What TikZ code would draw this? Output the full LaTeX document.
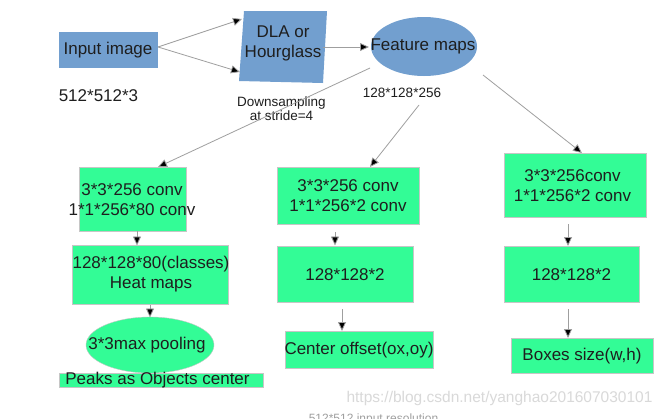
\documentclass[tikz,border=0pt]{standalone}
\usepackage{fontspec}
\setmainfont{Liberation Sans}
\usetikzlibrary{arrows.meta,shapes.geometric}
\definecolor{boxblue}{RGB}{114,159,207}
\definecolor{boxgreen}{RGB}{51,252,150}
\definecolor{txtc}{RGB}{30,30,30}
\begin{document}
\begin{tikzpicture}[x=1pt,y=-1pt,
  big/.style={font=\fontsize{17}{20}\selectfont, text=txtc, align=center, inner sep=0pt},
  small/.style={font=\fontsize{13.5}{14}\selectfont, text=txtc, align=center, inner sep=0pt},
  bbox/.style={fill=boxblue, draw=none, inner sep=0pt},
  gbox/.style={fill=boxgreen, draw=gray!45, line width=0.4pt, inner sep=0pt},
  arr/.style={draw=gray!75, line width=0.8pt, -{Triangle[length=9pt,width=8pt,fill=black]}},
]
\useasboundingbox (0,0) rectangle (668,418);
\fill[white] (0,0) rectangle (668,418);

% top row
\node[bbox, minimum width=99pt, minimum height=36pt] (inp) at (108.5,50) {};
\node[big] (inpt) at (108,50.5) {Input image};
\node[big] (res) at (98.5,96) {512*512*3};

\fill[boxblue] (244,11) -- (327,11) -- (323,83) -- (239,81) -- cycle;
\node[big] (dla) at (283,43) {DLA or\\Hourglass};

\node[ellipse, fill=boxblue, minimum width=106pt, minimum height=59pt, inner sep=0pt] (fm) at (424,46.5) {};
\node[big] (fmt) at (423,46.5) {Feature maps};

\node[small] (fdim) at (402,93) {128*128*256};
\node[small, font=\fontsize{13.5}{14.5}\selectfont] (down) at (281.5,108.5) {Downsampling\\at stride=4};

\coordinate (i1) at (158,47);
\coordinate (d1) at (242,19);
\coordinate (d2) at (240,72);
\coordinate (dr) at (323,47);
\coordinate (fl) at (369,47);
\coordinate (fa) at (370,68);
\coordinate (fb) at (419,105);
\coordinate (fc) at (483,75);

% left column
\node[gbox, minimum width=107pt, minimum height=64pt] (l1) at (132.5,199) {};
\node[big] (l1t) at (132,199.5) {3*3*256 conv\\1*1*256*80 conv};
\node[gbox, minimum width=156pt, minimum height=59pt] (l2) at (150,274.5) {};
\node[big] (l2t) at (151,274.5) {128*128*80(classes)\\Heat maps};
\node[ellipse, fill=boxgreen, draw=gray!45, line width=0.4pt, minimum width=128pt, minimum height=56pt, inner sep=0pt] (l3) at (150,345) {};
\node[big] (l3t) at (147,345) {3*3max pooling};
\node[fill=boxgreen, draw=gray!45, line width=0.4pt, minimum width=204pt, minimum height=14pt, inner sep=0pt] (l4) at (161,380) {};
\node[big] (l4t) at (157.5,380.5) {Peaks as Objects center};

% middle column
\node[gbox, minimum width=142pt, minimum height=57pt] (m1) at (348,195.5) {};
\node[big] (m1t) at (348,196) {3*3*256 conv\\1*1*256*2 conv};
\node[gbox, minimum width=136pt, minimum height=56pt] (m2) at (345,274) {};
\node[big] (m2t) at (345,275) {128*128*2};
\node[gbox, minimum width=148pt, minimum height=37pt] (m3) at (359,349.5) {};
\node[big] (m3t) at (359,350) {Center offset(ox,oy)};

% right column
\node[gbox, minimum width=142pt, minimum height=64pt] (r1) at (575,185) {};
\node[big] (r1t) at (572.5,185.5) {3*3*256conv\\1*1*256*2 conv};
\node[gbox, minimum width=135pt, minimum height=56pt] (r2) at (571.5,274) {};
\node[big] (r2t) at (571.5,275) {128*128*2};
\node[gbox, minimum width=142pt, minimum height=35pt] (r3) at (582,355.5) {};
\node[big] (r3t) at (582,356.5) {Boxes size(w,h)};

% connectors
\draw[arr] (i1) -- (d1);
\draw[arr] (i1) -- (d2);
\draw[arr] (dr) -- (fl);
\draw[arr] (fa) -- (158,167) coordinate (l1top);
\draw[arr] (fb) -- (370,167) coordinate (m1top);
\draw[arr] (fc) -- (582,153) coordinate (r1top);

\draw[arr] (137,231) -- (137,245.5);
\draw[arr] (150,304.5) -- (150,317.5);
\draw[arr] (335,232) -- (335,245.5);
\draw[arr] (342,309) -- (342,331);
\draw[arr] (568,224) -- (568,246);
\draw[arr] (568,309) -- (568,338);

% watermark and cut-off caption
\node[font=\fontsize{15.5}{16}\selectfont, text=gray!30, inner sep=0pt] (wm) at (499.5,398) {https://blog.csdn.net/yanghao201607030101};
\node[font=\fontsize{12}{13}\selectfont, text=gray!75, inner sep=0pt, anchor=base] (cap) at (373.5,422) {512*512 input resolution};
\end{tikzpicture}
\end{document}
